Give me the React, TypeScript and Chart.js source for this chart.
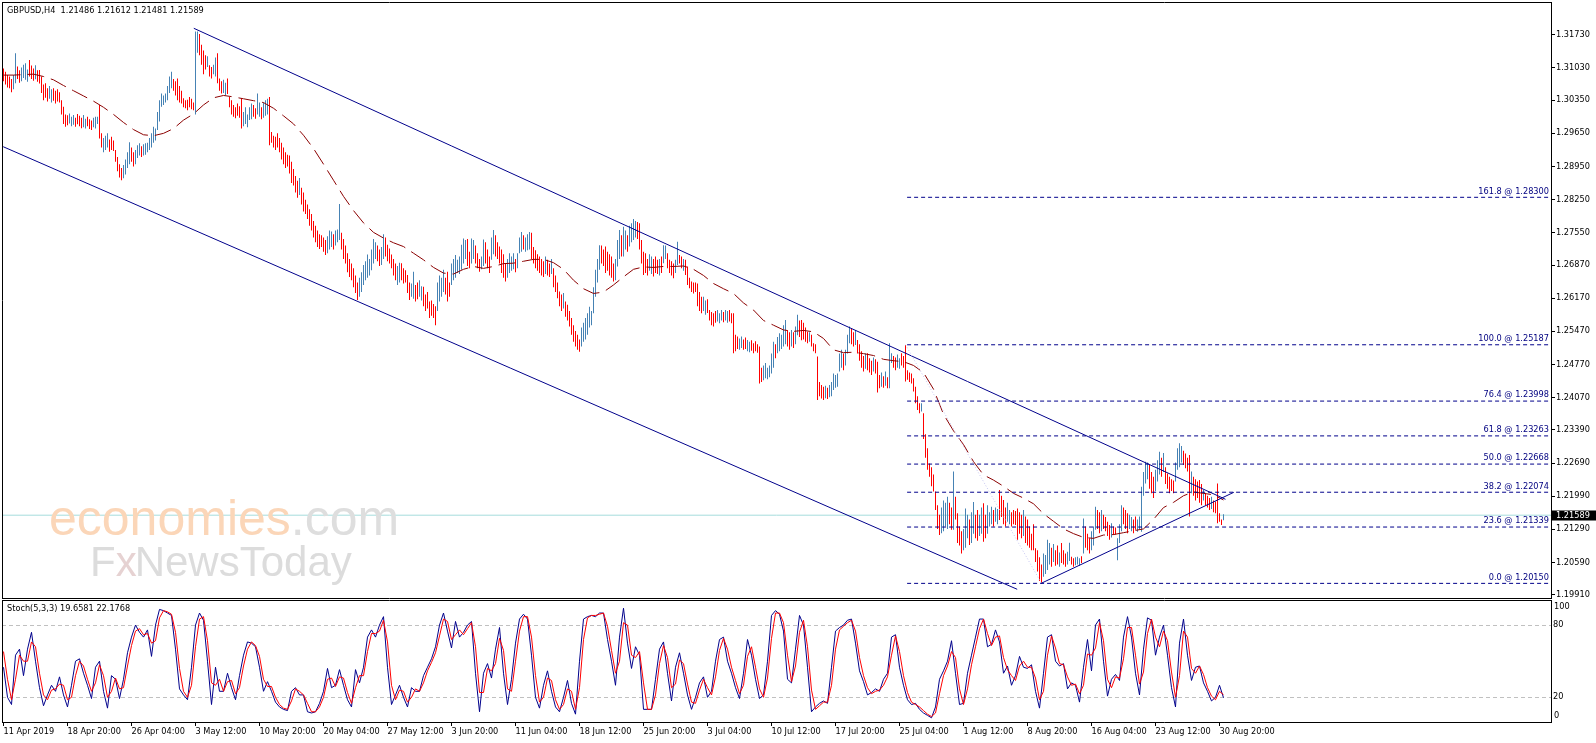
import React, { useEffect, useRef } from "react";
import { Chart, registerables } from "chart.js";
Chart.register(...registerables);

// ---------------- layout constants ----------------
const W = 1596;
const MAIN_H = 600;
const STOCH_H = 143;
const X_MIN = -0.75;
const X_MAX = 773.75;
const PRICE_MIN = 1.19841;
const PRICE_MAX = 1.32402;
const FONT = '"DejaVu Sans", "Liberation Sans", sans-serif';
const FS = 8.2;
const UP = "#4682b4";
const DOWN = "#ff0000";
const NAVY = "#00008b";

// ---------------- data ----------------
const symbolTitle = "GBPUSD,H4  1.21486 1.21612 1.21481 1.21589";
const stochTitle = "Stoch(5,3,3) 19.6581 22.1768";
const lastPrice = 1.21589;
const PIP_BASE = 1.2; // bar values are pips above 1.2000

const timeLabels = [
  "11 Apr 2019", "18 Apr 20:00", "26 Apr 04:00", "3 May 12:00", "10 May 20:00",
  "20 May 04:00", "27 May 12:00", "3 Jun 20:00", "11 Jun 04:00", "18 Jun 12:00",
  "25 Jun 20:00", "3 Jul 04:00", "10 Jul 12:00", "17 Jul 20:00", "25 Jul 04:00",
  "1 Aug 12:00", "8 Aug 20:00", "16 Aug 04:00", "23 Aug 12:00", "30 Aug 20:00",
];
const LABEL_STEP = 32; // bars between time labels

const priceTicks = [
  1.3173, 1.3103, 1.3035, 1.2965, 1.2895, 1.2825, 1.2755, 1.2687, 1.2617,
  1.2547, 1.2477, 1.2407, 1.2339, 1.2269, 1.2199, 1.2129, 1.2059, 1.1991,
];

const barLow = [
  1075,1068,1062,1060,1052,1058,1071,1080,1072,1075,
  1082,1078,1074,1085,1080,1076,1079,1074,1070,1050,
  1035,1040,1032,1038,1030,1034,1028,1032,1030,1005,
  985,979,982,986,980,983,979,984,980,976,
  978,975,980,974,972,978,975,985,954,935,
  925,930,935,926,930,928,905,885,872,866,
  870,878,892,900,905,895,900,913,918,915,
  918,920,925,930,935,945,950,972,990,1021,
  1025,1030,1035,1050,1060,1055,1045,1035,1030,1028,
  1020,1018,1014,1020,1016,1014,1005,1135,1130,1110,
  1090,1100,1105,1085,1081,1090,1085,1071,1055,1049,
  1050,1045,1048,1020,1005,1000,997,1002,998,975,
  980,985,978,993,995,1000,996,1005,1000,995,
  998,1002,1005,940,945,935,930,935,925,910,
  900,892,895,880,860,855,840,829,835,815,
  800,795,784,770,760,745,735,725,721,725,
  715,708,712,720,725,720,728,735,740,720,
  700,690,672,662,655,640,628,613,620,630,
  645,655,660,665,676,690,700,695,685,687,
  700,705,695,690,680,665,655,645,650,655,
  648,650,628,613,620,616,610,615,620,612,
  600,590,595,575,580,575,560,590,610,620,
  630,625,610,620,645,655,660,670,668,677,
  690,700,685,680,690,700,690,680,673,678,
  685,690,680,670,698,710,705,700,690,670,
  660,652,660,670,675,678,672,680,712,715,
  720,715,718,720,700,690,680,675,670,665,
  662,668,665,662,668,640,630,617,600,590,
  595,578,570,557,540,525,515,508,504,515,
  525,530,540,555,560,585,620,650,677,690,
  685,670,675,665,660,652,655,684,700,705,
  705,720,715,726,735,740,745,742,720,690,
  666,670,665,675,668,663,670,668,665,670,
  691,700,680,670,665,659,670,687,690,680,
  675,666,645,638,630,627,630,600,590,585,
  590,582,586,570,560,557,565,568,564,570,
  566,570,565,568,564,501,505,510,508,512,
  508,510,505,503,506,501,505,502,437,440,
  444,448,446,450,458,470,490,501,505,510,
  515,520,515,508,515,512,520,539,535,528,
  530,525,522,525,515,505,501,402,410,405,
  402,406,404,408,410,423,428,430,462,470,
  465,475,500,522,520,515,518,500,485,470,
  462,468,465,460,455,462,458,418,427,430,
  428,432,427,427,480,470,465,470,468,475,
  470,441,445,440,437,420,395,381,374,378,
  320,280,255,240,220,209,170,130,117,121,
  125,135,130,140,128,128,150,100,95,78,
  85,90,110,96,100,120,110,105,115,120,
  103,110,120,135,140,135,145,140,149,155,
  140,135,145,140,135,140,138,107,120,110,
  115,100,95,90,85,85,60,40,20,15,
  29,35,43,55,50,60,52,55,50,58,
  55,50,55,62,55,50,53,55,52,58,
  78,90,85,78,85,95,128,130,121,125,
  130,125,115,107,112,117,118,64,100,125,
  140,130,121,130,125,121,128,124,130,124,
  200,226,235,215,205,195,210,230,245,240,
  250,225,215,205,210,205,230,255,260,270,
  265,258,251,156,205,200,190,195,185,180,
  190,180,175,170,172,165,163,142,145,138,148,
];

const barHigh = [
  1102,1095,1088,1085,1080,1088,1134,1106,1098,1104,
  1110,1113,1100,1120,1108,1102,1109,1098,1099,1085,
  1068,1071,1060,1065,1058,1060,1055,1058,1052,1035,
  1021,1005,1003,1007,1000,1004,998,1006,1002,998,
  1004,996,1000,995,992,998,1000,1000,1025,965,
  955,960,965,952,958,950,930,915,900,892,
  898,910,925,946,935,925,930,940,944,938,
  942,944,945,955,965,979,975,1010,1035,1049,
  1045,1049,1065,1085,1095,1080,1075,1081,1065,1055,
  1039,1035,1036,1042,1038,1030,1180,1180,1175,1152,
  1140,1130,1128,1109,1105,1110,1125,1134,1081,1075,
  1078,1072,1081,1042,1035,1025,1020,1028,1022,1039,
  1010,1020,1005,1020,1028,1025,1018,1049,1030,1020,
  1030,1035,1038,1042,968,960,958,965,955,945,
  935,925,920,918,905,890,875,865,871,850,
  840,825,815,805,795,780,770,760,752,750,
  745,740,748,760,758,752,760,762,816,755,
  742,728,712,700,690,680,665,650,660,672,
  687,695,709,700,720,742,735,728,720,725,
  752,745,730,722,709,700,690,685,692,691,
  680,676,666,650,648,673,645,650,655,642,
  641,625,630,610,612,605,600,650,665,660,
  677,660,673,650,690,700,708,698,705,730,
  743,740,742,715,743,740,728,712,700,705,
  741,735,720,705,745,761,750,735,726,720,
  710,690,700,712,705,712,700,712,745,757,
  750,745,752,757,755,725,718,710,705,700,
  695,705,698,690,700,680,665,650,631,625,
  628,610,603,590,575,560,548,540,530,555,
  565,575,585,599,590,640,677,700,729,728,
  720,726,715,710,705,690,700,740,761,750,
  768,760,750,770,775,784,780,778,775,740,
  715,712,700,710,705,700,705,698,700,705,
  729,728,712,698,695,690,698,736,708,705,
  700,698,684,660,652,650,650,648,630,620,
  620,612,615,592,588,585,590,592,585,592,
  588,592,590,592,585,585,540,536,532,536,
  530,534,529,525,528,522,526,520,515,470,
  475,480,470,475,500,525,520,535,543,540,
  560,571,550,545,550,545,557,582,570,571,
  565,555,546,545,540,522,520,494,440,434,
  430,432,428,434,440,458,455,458,500,508,
  500,508,540,557,553,545,550,529,520,505,
  495,500,501,490,485,492,488,483,455,460,
  452,462,450,522,501,495,492,498,490,501,
  495,518,465,460,458,448,430,410,395,395,
  374,330,300,268,260,245,209,180,160,175,
  190,185,198,185,175,251,198,163,135,125,
  130,173,160,150,165,187,160,170,160,175,
  184,160,180,165,177,170,175,172,212,200,
  191,175,185,170,165,170,168,173,165,160,
  170,156,150,135,120,140,89,85,70,55,
  78,75,107,100,90,98,85,95,80,100,
  85,78,82,101,71,68,70,71,68,72,
  152,135,120,110,125,135,177,170,165,170,
  160,155,145,138,142,135,133,110,140,180,
  175,170,163,160,155,150,156,150,156,219,
  250,272,270,265,250,240,255,275,293,280,
  290,260,247,240,235,232,270,300,311,305,
  295,289,280,286,251,240,235,230,233,225,
  212,205,200,195,198,190,188,226,163,150,161,
];

// u = up bar (steel blue), d = down bar (red); 5 bars per chunk
const barDir = [
  "ddddd","uuddu","uuudd","duddd","ddduu","ddddd","ddduu","udddd","uuddd","uuudd",
  "uuudd","ddddd","uuuud","duuud","uuuuu","uuuuu","uuuuu","ddddd","ddddd","duudd",
  "ddudd","uuddd","uuddd","ddddd","uuuuu","dduud","uuudd","ddddd","ddddd","dddud",
  "ddddd","ddddd","dduuu","duuud","ddddd","ddduu","uuuuu","uuddu","udddd","dduud",
  "ddddu","udduu","ddddd","dduuu","udddu","uuuuu","uuddu","udddu","udddu","udddd",
  "dduuu","uduuu","duuud","ddddd","duddu","ddddd","udddd","ddddu","uuuuu","uuuud",
  "ddddd","duuud","uuduu","uuddd","ddduu","dddud","uuddd","duudd","udddd","ddddd",
  "uuddd","dduuu","duudd","ddduu","dduud","ddddd","uuuuu","uduuu","uuddu","duudd",
  "dddud","ddddd","duduu","uuuuu","duuud","duddd","duddd","udddu","duduu","dduud",
  "ddddd","ddddu","ddddd","ddddu","uuudd","udddd","uuudu","udduu","dduuu","duudd",
  "dduud","ddddd","udddd","ddddd","uuuud","uddud","dduud","duuud","udddu","uuddu",
  "ddddu","dduuu","ddduu","dduuu","uuudd","duuud","udddd","duuuu","ddddu","ddddd",
  "udddu","ddddd","u",
].join("");

// moving average (dashed maroon), one value every MA_STEP bars, pips above 1.2000
const MA_STEP = 5;
const maValues = [
  1088,1088,1089,1090,1085,1078,1066,1055,1044,1033,
  1020,1005,988,973,962,960,965,975,993,1006,
  1025,1040,1045,1042,1038,1034,1030,1018,1002,985,
  961,933,900,866,832,802,776,756,744,734,
  726,712,698,682,670,668,678,684,680,684,
  690,691,695,699,699,692,678,655,637,627,
  630,645,662,678,683,682,684,684,685,678,
  665,648,637,627,607,592,570,560,550,547,
  549,546,532,508,502,503,500,496,488,485,
  483,475,460,425,372,337,308,272,244,233,
  220,205,195,183,162,146,130,120,112,110,
  117,118,122,126,130,150,175,186,200,208,
  205,202,191,
];

// Stochastic (5,3,3), one value every STOCH_STEP bars
const STOCH_STEP = 2;
const stochMain = [
  45,20,14,55,60,38,60,74,50,28,
  13,22,30,25,37,22,12,30,50,52,
  40,30,19,45,50,25,11,38,35,19,
  35,57,70,80,74,70,76,54,80,93,
  92,90,88,60,27,22,18,45,80,90,
  84,50,14,45,25,25,40,28,18,38,
  55,66,65,62,45,25,33,25,16,12,
  10,9,25,28,22,22,8,7,8,15,
  25,44,28,30,43,30,18,12,43,32,
  45,70,76,70,80,87,45,14,22,30,
  20,12,28,25,25,38,45,52,62,80,
  90,75,61,83,70,74,80,83,40,8,
  40,48,36,60,78,40,14,35,65,85,
  89,85,55,20,11,30,42,25,12,8,
  20,34,15,6,50,85,87,88,87,90,
  90,68,50,30,70,94,65,44,62,55,
  10,10,10,35,60,66,40,17,45,57,
  40,22,10,20,32,37,20,25,50,68,
  70,50,40,28,19,40,68,55,35,19,
  22,50,88,92,89,75,35,32,60,88,
  80,45,8,12,15,17,15,45,75,78,
  80,84,85,65,42,33,22,24,27,25,
  35,40,70,72,45,30,18,14,15,10,
  7,5,3,12,35,42,50,67,40,14,
  15,40,55,70,85,85,62,64,76,66,
  40,46,30,38,54,45,44,47,25,11,
  40,70,72,50,46,48,27,32,30,16,
  45,68,42,80,85,50,21,35,39,34,
  70,87,70,40,22,60,86,84,55,70,
  80,55,28,12,65,85,55,34,45,46,
  32,25,17,20,30,19.66,
];
const stochSignal = [
  58,35,18,35,55,50,50,66,62,40,
  22,18,26,27,31,30,18,20,38,50,
  46,35,25,32,47,38,20,25,36,27,
  28,46,63,75,77,72,73,65,67,86,
  92,91,89,74,44,25,20,30,62,85,
  87,67,32,30,35,25,33,34,23,28,
  46,60,66,63,54,35,29,29,20,14,
  11,10,17,27,25,22,15,8,8,12,
  20,35,36,29,37,36,24,15,28,38,
  38,58,73,73,75,84,66,30,18,26,
  25,16,20,27,25,32,42,49,57,71,
  85,83,68,72,76,72,77,82,62,24,
  24,44,42,48,69,59,27,25,50,75,
  87,87,70,38,16,20,36,34,18,10,
  14,27,25,10,28,68,86,88,88,89,
  90,79,59,40,50,82,80,55,53,58,
  32,10,10,22,48,63,53,28,31,51,
  48,31,16,15,26,35,28,22,37,59,
  69,60,45,34,23,30,54,62,45,27,
  20,36,69,90,90,82,55,33,46,74,
  84,62,26,10,13,16,16,30,60,76,
  79,82,84,75,53,38,28,23,25,26,
  30,37,55,71,58,38,24,16,14,12,
  9,6,4,7,23,38,46,58,53,27,
  14,27,47,62,77,85,73,63,70,71,
  53,43,38,34,46,50,45,45,36,18,
  25,55,71,61,48,47,37,30,31,23,
  30,56,55,61,82,67,35,28,37,36,
  52,78,78,55,31,41,73,85,70,62,
  75,67,41,20,38,75,70,44,40,46,
  39,28,21,18,25,22.18,
];
const stochLevels = [80, 20];
const stochAxisLabels = [100, 80, 20, 0];

// trend objects: [bar index, price]
const upperChannel = [[95.15, 1.31868], [611, 1.21925]];
const lowerChannel = [[-0.15, 1.29368], [506.85, 1.20025]];
const supportLine = [[518.85, 1.20151], [615.15, 1.22072]];
const fibTrend = [[451, 1.25187], [519, 1.2015]];
const FIB_START = 451.8;
const fibLevels = ["161.8", "100.0", "76.4", "61.8", "50.0", "38.2", "23.6", "0.0"];
const fibPrices = [1.283, 1.25187, 1.23998, 1.23263, 1.22668, 1.22074, 1.21339, 1.2015];

// ---------------- helpers ----------------
const toPrice = (p: number) => PIP_BASE + p / 10000;
const pts = (arr: number[][]) => arr.map(([x, y]) => ({ x, y }));

function lineDs(data: any[], color: string, dash: number[] = [], width = 1) {
  return {
    type: "line",
    data,
    borderColor: color,
    backgroundColor: color,
    borderWidth: width,
    borderDash: dash,
    pointRadius: 0,
    fill: false,
    tension: 0,
  };
}

function mainConfig(): any {
  const bars = barLow.map((l, i) => ({ x: i, y: [toPrice(l), toPrice(barHigh[i])] }));
  const barColors = barLow.map((_, i) => (barDir[i] === "u" ? UP : DOWN));
  const ma = maValues.map((v, k) => ({ x: k * MA_STEP, y: toPrice(v) }));

  const fibSets = fibPrices.map((p) =>
    lineDs([{ x: FIB_START, y: p }, { x: X_MAX, y: p }], NAVY, [4, 3])
  );

  const overlay = {
    id: "mainOverlay",
    afterDatasetsDraw(chart: any) {
      const { ctx, chartArea, scales } = chart;
      const ys = scales.y;
      ctx.save();
      // watermark
      ctx.textBaseline = "alphabetic";
      ctx.textAlign = "left";
      ctx.font = '50px "Liberation Sans", sans-serif';
      ctx.fillStyle = "#fbd6b8";
      ctx.fillText("economies", 49, 535);
      const w1 = ctx.measureText("economies").width;
      ctx.fillStyle = "#dedede";
      ctx.fillText(".com", 49 + w1, 535);
      ctx.font = '42px "Liberation Sans", sans-serif';
      ctx.fillStyle = "#dcdcdc";
      ctx.fillText("F", 90, 576);
      const wf = ctx.measureText("F").width;
      ctx.fillStyle = "#e6d2d2";
      ctx.fillText("x", 90 + wf, 576);
      const wx = ctx.measureText("x").width;
      ctx.fillStyle = "#dcdcdc";
      ctx.fillText("NewsToday", 90 + wf + wx - 2, 576);

      // fib labels
      ctx.font = `${FS}px ${FONT}`;
      ctx.fillStyle = "#000080";
      ctx.textAlign = "right";
      ctx.textBaseline = "middle";
      fibPrices.forEach((p, k) => {
        const y = ys.getPixelForValue(p);
        ctx.fillText(`${fibLevels[k]} @ ${p.toFixed(5)}`, chartArea.right - 2, y - 5.8);
      });

      // title
      ctx.textAlign = "left";
      ctx.fillStyle = "#000";
      ctx.fillText(symbolTitle, 7, 11);
      ctx.restore();
    },
    afterDraw(chart: any) {
      const { ctx, chartArea, scales } = chart;
      ctx.save();
      ctx.strokeStyle = "#000";
      ctx.lineWidth = 1;
      ctx.beginPath();
      ctx.moveTo(2, 2.5);
      ctx.lineTo(chartArea.right + 1, 2.5);
      ctx.moveTo(2.5, 2.5);
      ctx.lineTo(2.5, chartArea.bottom + 0.5);
      ctx.moveTo(2, chartArea.bottom + 0.5);
      ctx.lineTo(chartArea.right + 1, chartArea.bottom + 0.5);
      ctx.stroke();
      // last price box
      const y = scales.y.getPixelForValue(lastPrice);
      ctx.fillStyle = "#000";
      ctx.fillRect(chartArea.right + 1, Math.round(y) - 4.5, 44, 10);
      ctx.fillStyle = "#fff";
      ctx.font = `${FS}px ${FONT}`;
      ctx.textBaseline = "middle";
      ctx.textAlign = "left";
      ctx.fillText(lastPrice.toFixed(5), chartArea.right + 5, Math.round(y) + 0.5);
      ctx.restore();
    },
  };

  return {
    type: "line",
    data: {
      datasets: [
        ...fibSets,
        lineDs(pts(fibTrend), "#c4c4f0", [1, 2]),
        lineDs(pts(upperChannel), NAVY),
        lineDs(pts(lowerChannel), NAVY),
        lineDs(pts(supportLine), NAVY),
        lineDs(ma, "#8b0000", [17, 7]),
        {
          type: "bar",
          data: bars,
          backgroundColor: barColors,
          borderWidth: 0,
          barThickness: 1,
          inflateAmount: 0,
          grouped: false,
        },
        lineDs([{ x: X_MIN, y: lastPrice }, { x: X_MAX, y: lastPrice }], "#a6dcdc"),
      ],
    },
    options: {
      responsive: false,
      animation: false,
      devicePixelRatio: 1,
      events: [],
      layout: { padding: { left: 2, top: 3, right: 0, bottom: 2 } },
      plugins: { legend: { display: false }, tooltip: { enabled: false } },
      scales: {
        x: { type: "linear", min: X_MIN, max: X_MAX, display: false, offset: false, bounds: "data" },
        y: {
          type: "linear",
          position: "right",
          min: PRICE_MIN,
          max: PRICE_MAX,
          bounds: "data",
          afterBuildTicks: (s: any) => {
            s.ticks = priceTicks.map((v) => ({ value: v }));
          },
          afterFit: (s: any) => {
            s.width = 45;
            s.paddingTop = 0;
            s.paddingBottom = 0;
          },
          ticks: {
            autoSkip: false,
            padding: 1,
            color: "#000",
            font: { family: FONT, size: FS },
            callback: (v: any) => Number(v).toFixed(5),
          },
          grid: { drawOnChartArea: false, drawTicks: true, tickLength: 4, color: "#000" },
          border: { display: true, color: "#000", width: 1 },
        },
      },
    },
    plugins: [overlay],
  };
}

function stochConfig(): any {
  const k = stochMain.map((v, i) => ({ x: i * STOCH_STEP, y: v }));
  const d = stochSignal.map((v, i) => ({ x: i * STOCH_STEP, y: v }));

  const overlay = {
    id: "stochOverlay",
    beforeDatasetsDraw(chart: any) {
      const { ctx, chartArea, scales } = chart;
      ctx.save();
      ctx.strokeStyle = "#c0c0c0";
      ctx.lineWidth = 1;
      ctx.setLineDash([4, 3]);
      stochLevels.forEach((lv) => {
        const y = Math.round(scales.y.getPixelForValue(lv)) + 0.5;
        ctx.beginPath();
        ctx.moveTo(chartArea.left, y);
        ctx.lineTo(chartArea.right, y);
        ctx.stroke();
      });
      ctx.restore();
    },
    afterDraw(chart: any) {
      const { ctx, chartArea, scales } = chart;
      ctx.save();
      ctx.strokeStyle = "#000";
      ctx.lineWidth = 1;
      ctx.beginPath();
      ctx.moveTo(2, 0.5);
      ctx.lineTo(chartArea.right + 1, 0.5);
      ctx.moveTo(2.5, 0.5);
      ctx.lineTo(2.5, chartArea.bottom + 0.5);
      ctx.stroke();
      ctx.font = `${FS}px ${FONT}`;
      ctx.fillStyle = "#000";
      ctx.textAlign = "left";
      ctx.textBaseline = "middle";
      stochAxisLabels.forEach((lv) => {
        let y = scales.y.getPixelForValue(lv);
        if (lv === 100) y += 6.3;
        if (lv === 0) y -= 5.7;
        ctx.fillText(String(lv), chartArea.right + (lv === 100 || lv === 0 ? 3 : 2), y);
      });
      ctx.fillText(stochTitle, 7, 9.3);
      ctx.restore();
    },
  };

  return {
    type: "line",
    data: {
      datasets: [lineDs(d, "#ff0000"), lineDs(k, "#00008b")],
    },
    options: {
      responsive: false,
      animation: false,
      devicePixelRatio: 1,
      events: [],
      layout: { padding: { left: 2, top: 1, right: 0, bottom: 0 } },
      plugins: { legend: { display: false }, tooltip: { enabled: false } },
      scales: {
        x: {
          type: "linear",
          position: "bottom",
          min: X_MIN,
          max: X_MAX,
          offset: false,
          bounds: "data",
          afterBuildTicks: (s: any) => {
            s.ticks = timeLabels.map((_, i) => ({ value: i * LABEL_STEP }));
          },
          afterFit: (s: any) => {
            s.height = 21;
            s.paddingLeft = 0;
            s.paddingRight = 0;
          },
          ticks: {
            autoSkip: false,
            maxRotation: 0,
            minRotation: 0,
            align: "start",
            padding: 1,
            color: "#000",
            font: { family: FONT, size: FS },
            callback: (_v: any, idx: number) => timeLabels[idx],
          },
          grid: { drawOnChartArea: false, drawTicks: true, tickLength: 4, color: "#000" },
          border: { display: true, color: "#000", width: 1 },
        },
        y: {
          type: "linear",
          position: "right",
          min: -0.5,
          max: 100,
          bounds: "data",
          afterBuildTicks: (s: any) => {
            s.ticks = stochAxisLabels.map((v) => ({ value: v }));
          },
          afterFit: (s: any) => {
            s.width = 45;
            s.paddingTop = 0;
            s.paddingBottom = 0;
          },
          ticks: { display: false },
          grid: { drawOnChartArea: false, drawTicks: false },
          border: { display: true, color: "#000", width: 1 },
        },
      },
    },
    plugins: [overlay],
  };
}

export default function App() {
  const mainRef = useRef<HTMLCanvasElement>(null);
  const stochRef = useRef<HTMLCanvasElement>(null);

  useEffect(() => {
    const c1 = new Chart(mainRef.current as HTMLCanvasElement, mainConfig());
    const c2 = new Chart(stochRef.current as HTMLCanvasElement, stochConfig());
    return () => {
      c1.destroy();
      c2.destroy();
    };
  }, []);

  return (
    <div style={{ position: "absolute", left: 0, top: 0, width: W, height: 743, background: "#fff" }}>
      <canvas
        ref={mainRef}
        width={W}
        height={MAIN_H}
        style={{ position: "absolute", left: 0, top: 0, width: W, height: MAIN_H }}
      />
      <canvas
        ref={stochRef}
        width={W}
        height={STOCH_H}
        style={{ position: "absolute", left: 0, top: MAIN_H, width: W, height: STOCH_H }}
      />
    </div>
  );
}
